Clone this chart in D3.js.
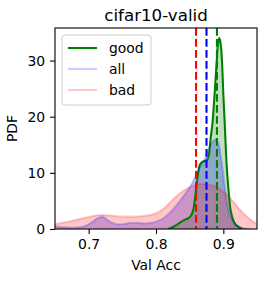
<!DOCTYPE html>
<html>
<head>
<meta charset="utf-8">
<script src="https://cdn.jsdelivr.net/npm/d3@7"></script>
<style>
    body { margin: 0; background: #fff; }
    svg { display: block; font-family: "DejaVu Sans", sans-serif; }
</style>
</head>
<body>
<div id="chart"></div>
<script>
// KDE curves (x = val acc, y = pdf)
const goodX = [0.818, 0.826, 0.834, 0.842, 0.849, 0.853, 0.856, 0.859, 0.862, 0.865, 0.869, 0.873, 0.877, 0.879,
               0.881, 0.884, 0.887, 0.890, 0.892, 0.894, 0.896, 0.898, 0.900, 0.902, 0.904, 0.906, 0.908, 0.910,
               0.913, 0.917, 0.922, 0.928];
const goodY = [0, 0.4, 1.0, 1.6, 2.0, 2.6, 3.8, 6.5, 9.5, 11.4, 12.0, 12.1, 12.5, 13.5,
               16.0, 19.0, 24.0, 29.5, 33.0, 34.0, 33.0, 30.0, 24.0, 19.0, 13.5, 9.5, 6.5, 4.0,
               2.2, 1.0, 0.4, 0];

const allX = [0.650, 0.665, 0.680, 0.690, 0.698, 0.706, 0.713, 0.720, 0.728, 0.735, 0.742, 0.752, 0.762, 0.772,
              0.782, 0.792, 0.802, 0.812, 0.823, 0.833, 0.843, 0.851, 0.858, 0.865, 0.873, 0.879, 0.884, 0.889,
              0.894, 0.898, 0.902, 0.906, 0.910, 0.915, 0.920, 0.925, 0.932, 0.940];
const allY = [0.5, 0.3, 0.25, 0.4, 0.7, 1.3, 1.9, 2.2, 1.6, 1.1, 0.85, 0.9, 1.1, 1.1,
              1.0, 1.1, 1.4, 2.0, 3.2, 4.6, 6.2, 7.6, 9.2, 11.0, 12.6, 14.5, 15.5, 16.0,
              14.6, 11.5, 7.5, 4.3, 2.4, 1.2, 0.6, 0.3, 0.1, 0];

const badX = [0.640, 0.650, 0.665, 0.680, 0.698, 0.718, 0.733, 0.748, 0.767, 0.787, 0.802, 0.813, 0.823, 0.835,
              0.848, 0.858, 0.868, 0.878, 0.888, 0.898, 0.908, 0.918, 0.927, 0.937, 0.947, 0.960];
const badY = [0.7, 0.9, 1.2, 1.6, 2.1, 2.5, 2.4, 2.2, 2.2, 2.4, 2.9, 3.8, 5.0, 6.3,
              7.3, 7.8, 8.0, 7.9, 7.6, 6.8, 5.8, 4.4, 3.1, 2.0, 1.1, 0.6];

// mean lines
const meanBad = 0.8595;
const meanAll = 0.875;
const meanGood = 0.8905;

const xTicks = [0.7, 0.8, 0.9];
const yTicks = [0, 10, 20, 30];
const legendLabels = ["good", "all", "bad"];

function drawKdeChart(selector) {
    const width = 264, height = 281;
    const margin = {top: 28, right: 7, bottom: 52, left: 55};
    const w = width - margin.left - margin.right;
    const h = height - margin.top - margin.bottom;

    const x = d3.scaleLinear().domain([0.65, 0.95]).range([0, w]);
    const y = d3.scaleLinear().domain([0, 35.8]).range([h, 0]);

    const svg = d3.select(selector).append("svg")
        .attr("width", width)
        .attr("height", height);

    svg.append("defs").append("clipPath")
        .attr("id", "clip")
        .append("rect")
        .attr("width", w)
        .attr("height", h);

    const g = svg.append("g")
        .attr("transform", "translate(" + margin.left + "," + margin.top + ")");

    const series = [
        {name: "good", xs: goodX, ys: goodY, color: "#008000", alpha: 1, fill: 0.25},
        {name: "all", xs: allX, ys: allY, color: "#0000ff", alpha: 0.2, fill: 0.25},
        {name: "bad", xs: badX, ys: badY, color: "#ff0000", alpha: 0.2, fill: 0.22}
    ];

    const area = d3.area()
        .x(d => x(d[0]))
        .y0(y(0))
        .y1(d => y(d[1]))
        .curve(d3.curveMonotoneX);

    const line = d3.line()
        .x(d => x(d[0]))
        .y(d => y(d[1]))
        .curve(d3.curveMonotoneX);

    const plot = g.append("g").attr("clip-path", "url(#clip)");

    // fills first (they sit under all lines)
    series.forEach(s => {
        plot.append("path")
            .datum(d3.zip(s.xs, s.ys))
            .attr("d", area)
            .attr("fill", s.color)
            .attr("fill-opacity", s.fill);
    });

    series.forEach(s => {
        plot.append("path")
            .datum(d3.zip(s.xs, s.ys))
            .attr("d", line)
            .attr("fill", "none")
            .attr("stroke", s.color)
            .attr("stroke-opacity", s.alpha)
            .attr("stroke-width", 2.08);
    });

    // dashed mean lines
    [[meanBad, "#ff0000"], [meanAll, "#0000ff"], [meanGood, "#008000"]].forEach(m => {
        plot.append("line")
            .attr("x1", x(m[0])).attr("x2", x(m[0]))
            .attr("y1", 0).attr("y2", h)
            .attr("stroke", m[1])
            .attr("stroke-width", 2.08)
            .attr("stroke-dasharray", "7.7,3.3");
    });

    // axes
    const xAxis = g.append("g")
        .attr("transform", "translate(0," + h + ")")
        .call(d3.axisBottom(x).tickValues(xTicks).tickFormat(d3.format(".1f")).tickSize(4.9).tickPadding(4.9));
    const yAxis = g.append("g")
        .call(d3.axisLeft(y).tickValues(yTicks).tickSize(4.9).tickPadding(4.9));
    [xAxis, yAxis].forEach(a => {
        a.select(".domain").remove();
        a.selectAll("text").style("font-size", "13.9px").style("font-family", "DejaVu Sans").attr("fill", "#000");
        a.selectAll("line").attr("stroke", "#000").attr("stroke-width", 1.1);
    });

    // spines
    g.append("rect")
        .attr("width", w)
        .attr("height", h)
        .attr("fill", "none")
        .attr("stroke", "#000")
        .attr("stroke-width", 1.1);

    // title and labels
    svg.append("text")
        .attr("x", margin.left + w / 2)
        .attr("y", 21)
        .attr("text-anchor", "middle")
        .style("font-size", "16.7px")
        .text("cifar10-valid");

    svg.append("text")
        .attr("x", margin.left + w / 2)
        .attr("y", 270)
        .attr("text-anchor", "middle")
        .style("font-size", "13.9px")
        .text("Val Acc");

    svg.append("text")
        .attr("transform", "translate(17," + (margin.top + h / 2) + ") rotate(-90)")
        .attr("text-anchor", "middle")
        .style("font-size", "13.9px")
        .text("PDF");

    // legend
    const legend = g.append("g").attr("transform", "translate(7,7)");
    legend.append("rect")
        .attr("width", 89)
        .attr("height", 70)
        .attr("rx", 3)
        .attr("fill", "#fff")
        .attr("fill-opacity", 0.8)
        .attr("stroke", "#cccccc")
        .attr("stroke-width", 1);

    const items = legend.selectAll(".item")
        .data(series)
        .enter().append("g")
        .attr("class", "item")
        .attr("transform", (d, i) => "translate(0," + (13 + i * 21) + ")");

    items.append("line")
        .attr("x1", 6).attr("x2", 35)
        .attr("stroke", d => d.color)
        .attr("stroke-opacity", d => d.alpha)
        .attr("stroke-width", 2.08);

    items.append("text")
        .attr("x", 47)
        .attr("dy", "0.35em")
        .style("font-size", "13.9px")
        .text((d, i) => legendLabels[i]);
}

drawKdeChart("#chart");
</script>
</body>
</html>
